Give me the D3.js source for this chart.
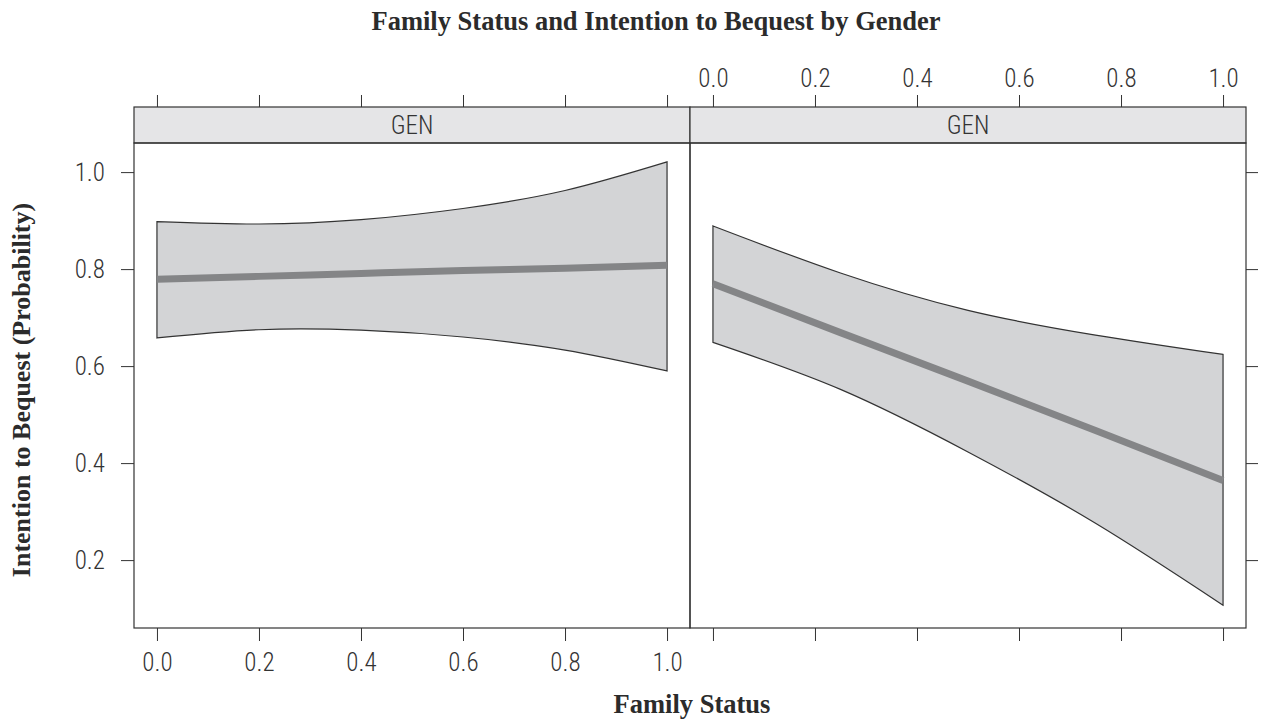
<!DOCTYPE html>
<html lang="en">
<head>
	<title>Family Status and Intention to Bequest by Gender</title>
	<meta charset="utf-8">
	<script src="https://d3js.org/d3.v7.min.js" charset="utf-8"></script>
	<style>
		body { margin: 0; background: #fff; }
		.tick text { font-family: "Roboto Condensed", "Liberation Sans Narrow", "Liberation Sans", sans-serif; font-weight: 300; font-size: 25px; fill: #333; }
		.tick line { stroke: #333; }
		.title { font-family: "Liberation Serif", "DejaVu Serif", serif; font-weight: bold; fill: #2b2b2b; }
		.strip text { font-family: "Roboto Condensed", "Liberation Sans Narrow", "Liberation Sans", sans-serif; font-weight: 300; font-size: 25px; fill: #333; }
	</style>
</head>
<body>
	<script>
		// panel labels (both strips read GEN in the original)
		var panels = ["GEN", "GEN"];
		var xTicks = [0, 0.2, 0.4, 0.6, 0.8, 1.0];
		var yTicks = [0.2, 0.4, 0.6, 0.8, 1.0];

		// fitted probability and confidence band
		var famLeft = [0, 0.2, 0.4, 0.6, 0.8, 1.0];
		var fitLeft = [0.779, 0.785, 0.791, 0.797, 0.802, 0.808];
		var upperLeft = [0.898, 0.893, 0.902, 0.925, 0.962, 1.021];
		var lowerLeft = [0.658, 0.675, 0.674, 0.660, 0.633, 0.590];

		var famRight = [0, 0.25, 0.5, 0.75, 1.0];
		var fitRight = [0.770, 0.669, 0.569, 0.467, 0.364];
		var upperRight = [0.889, 0.792, 0.715, 0.664, 0.624];
		var lowerRight = [0.649, 0.552, 0.423, 0.276, 0.107];

		var width = 1270;
		var height = 719;
		var panelLeft = 134, panelW = 556;
		var stripTop = 107, stripBottom = 143, panelBottom = 628;

		var svg = d3.select("body")
			.append("svg")
			.attr("width", width)
			.attr("height", height);

		var y = d3.scaleLinear()
			.domain([0.06, 1.06])
			.range([panelBottom, stripBottom]);

		var data = [
			{ x: famLeft, fit: fitLeft, lo: lowerLeft, hi: upperLeft },
			{ x: famRight, fit: fitRight, lo: lowerRight, hi: upperRight }
		];

		data.forEach(function(d, i) {
			var x0 = panelLeft + i * panelW;
			var x = d3.scaleLinear()
				.domain([-0.045, 1.045])
				.range([x0, x0 + panelW]);

			var rows = d.x.map(function(v, j) {
				return { x: v, fit: d.fit[j], lo: d.lo[j], hi: d.hi[j] };
			});

			var g = svg.append("g");

			// confidence band
			g.append("path")
				.datum(rows)
				.attr("fill", "#d3d4d6")
				.attr("stroke", "#333")
				.attr("stroke-width", 1.2)
				.attr("d", d3.area()
					.curve(d3.curveNatural)
					.x(function(r) { return x(r.x); })
					.y0(function(r) { return y(r.lo); })
					.y1(function(r) { return y(r.hi); }));

			// fitted line
			g.append("path")
				.datum(rows)
				.attr("fill", "none")
				.attr("stroke", "#848587")
				.attr("stroke-width", 7)
				.attr("d", d3.line()
					.curve(d3.curveNatural)
					.x(function(r) { return x(r.x); })
					.y(function(r) { return y(r.fit); }));

			// strip
			var strip = svg.append("g").attr("class", "strip");
			strip.append("rect")
				.attr("x", x0).attr("y", stripTop)
				.attr("width", panelW).attr("height", stripBottom - stripTop)
				.attr("fill", "#e5e5e7")
				.attr("stroke", "#333")
				.attr("stroke-width", 1.2);
			strip.append("text")
				.attr("x", x0 + panelW / 2)
				.attr("y", (stripTop + stripBottom) / 2 + 9)
				.attr("text-anchor", "middle")
				.text(panels[i]);

			// panel frame
			svg.append("rect")
				.attr("x", x0).attr("y", stripBottom)
				.attr("width", panelW).attr("height", panelBottom - stripBottom)
				.attr("fill", "none")
				.attr("stroke", "#333")
				.attr("stroke-width", 1.2);

			// top axis: labels only on the right panel
			var top = svg.append("g")
				.attr("transform", "translate(0," + stripTop + ")")
				.call(d3.axisTop(x).tickValues(xTicks).tickSize(12).tickSizeOuter(0).tickPadding(8)
					.tickFormat(i === 1 ? d3.format(".1f") : ""));
			top.select(".domain").remove();

			// bottom axis: labels only on the left panel
			var bottom = svg.append("g")
				.attr("transform", "translate(0," + panelBottom + ")")
				.call(d3.axisBottom(x).tickValues(xTicks).tickSize(13).tickSizeOuter(0).tickPadding(12)
					.tickFormat(i === 0 ? d3.format(".1f") : ""));
			bottom.select(".domain").remove();
		});

		// y axes
		var left = svg.append("g")
			.attr("transform", "translate(" + panelLeft + ",0)")
			.call(d3.axisLeft(y).tickValues(yTicks).tickSize(13).tickSizeOuter(0).tickPadding(16)
				.tickFormat(d3.format(".1f")));
		left.select(".domain").remove();

		var right = svg.append("g")
			.attr("transform", "translate(" + (panelLeft + 2 * panelW) + ",0)")
			.call(d3.axisRight(y).tickValues(yTicks).tickSize(12).tickSizeOuter(0).tickFormat(""));
		right.select(".domain").remove();

		// titles
		svg.append("text")
			.attr("class", "title")
			.attr("x", 656).attr("y", 30)
			.attr("text-anchor", "middle")
			.attr("font-size", 26.5)
			.text("Family Status and Intention to Bequest by Gender");

		svg.append("text")
			.attr("class", "title")
			.attr("x", 692).attr("y", 713)
			.attr("text-anchor", "middle")
			.attr("font-size", 26.5)
			.text("Family Status");

		svg.append("text")
			.attr("class", "title")
			.attr("transform", "translate(30," + 390 + ") rotate(-90)")
			.attr("text-anchor", "middle")
			.attr("font-size", 26)
			.text("Intention to Bequest (Probability)");
	</script>
</body>
</html>
